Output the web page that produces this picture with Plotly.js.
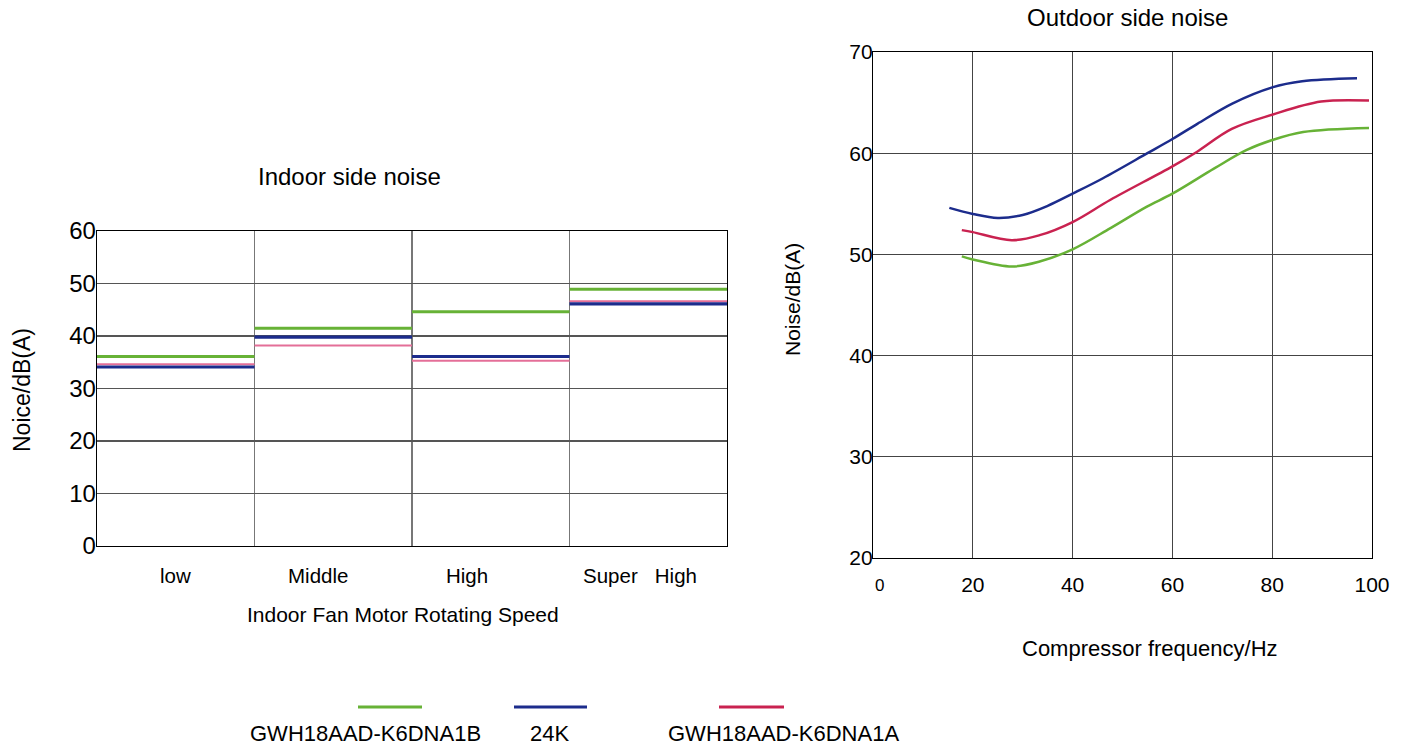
<!DOCTYPE html>
<html>
<head>
<meta charset="utf-8">
<script src="https://cdn.plot.ly/plotly-3.0.1.min.js"></script>
<style>html,body{margin:0;padding:0;background:#fff;}#chart{width:1409px;height:749px;}</style>
</head>
<body>
<div id="chart"></div>
<script>
// ---- Indoor side noise (left) ----
const speedCategories = ['low', 'Middle', 'High', 'Super   High'];
const indoorGreen = [36.1, 41.5, 44.6, 48.9];
const indoorBlue  = [34.1, 39.8, 36.1, 46.1];
const indoorPink  = [34.6, 38.2, 35.3, 46.6];
const indoorTicks = [0, 10, 20, 30, 40, 50, 60];

// ---- Outdoor side noise (right) ----
const freqBlue  = [15.3, 20, 25, 30, 35, 40, 46, 55, 60, 65, 72, 80, 86, 97];
const noiseBlue = [54.6, 54.0, 53.6, 53.9, 54.8, 56.0, 57.5, 60.0, 61.4, 62.9, 64.9, 66.5, 67.1, 67.4];
const freqRed   = [17.8, 20, 27.8, 33.4, 40, 47.6, 60, 64.8, 71.9, 80, 89.8, 99.4];
const noiseRed  = [52.4, 52.2, 51.4, 51.9, 53.2, 55.4, 58.7, 60.1, 62.4, 63.8, 65.1, 65.2];
const freqGreen = [17.8, 20, 27.8, 33.4, 40, 47.6, 54.8, 60, 68.4, 74.8, 80, 86.2, 99.4];
const noiseGreen= [49.8, 49.5, 48.8, 49.3, 50.5, 52.6, 54.7, 56.0, 58.5, 60.3, 61.3, 62.1, 62.5];
const freqTicks = [20, 40, 60, 80, 100];
const outdoorTicks = [20, 30, 40, 50, 60, 70];

const seriesNames = ['GWH18AAD-K6DNA1B', '24K', 'GWH18AAD-K6DNA1A'];

const C_GREEN = '#67b236', C_BLUE = '#1c2c8c', C_PINK = '#e46f98', C_RED = '#c92250';
const FONT = 'Liberation Sans, Arial, sans-serif';
const NARROW = 'Liberation Sans Narrow, Liberation Sans, Arial, sans-serif';

function steps(vals) {
  const x = [], y = [];
  vals.forEach((v, i) => { x.push(i, i + 1, null); y.push(v, v, null); });
  return {x, y};
}

const traces = [];
const sg = steps(indoorGreen), sb = steps(indoorBlue), sp = steps(indoorPink);
traces.push({x: sp.x, y: sp.y, mode: 'lines', line: {color: C_PINK, width: 2}, xaxis: 'x', yaxis: 'y', name: seriesNames[2], hoverinfo: 'skip'});
traces.push({x: sb.x, y: sb.y, mode: 'lines', line: {color: C_BLUE, width: 3.2}, xaxis: 'x', yaxis: 'y', name: seriesNames[1], hoverinfo: 'skip'});
traces.push({x: sg.x, y: sg.y, mode: 'lines', line: {color: C_GREEN, width: 3}, xaxis: 'x', yaxis: 'y', name: seriesNames[0], hoverinfo: 'skip'});

traces.push({x: freqGreen, y: noiseGreen, mode: 'lines', line: {color: C_GREEN, width: 2.5, shape: 'spline', smoothing: 1}, xaxis: 'x2', yaxis: 'y2', name: seriesNames[0]});
traces.push({x: freqRed, y: noiseRed, mode: 'lines', line: {color: C_RED, width: 2.5, shape: 'spline', smoothing: 1}, xaxis: 'x2', yaxis: 'y2', name: seriesNames[2]});
traces.push({x: freqBlue, y: noiseBlue, mode: 'lines', line: {color: C_BLUE, width: 2.5, shape: 'spline', smoothing: 1}, xaxis: 'x2', yaxis: 'y2', name: seriesNames[1]});

const W = 1409, H = 749;
const px = v => v / W, py = v => 1 - v / H;

function note(x, y, text, size, extra) {
  return Object.assign({x: x, y: y, xref: 'paper', yref: 'paper', text: text, showarrow: false,
    xanchor: 'center', yanchor: 'middle', font: {family: FONT, size: size, color: '#000'}}, extra || {});
}

const labelPos = [0.5, 1.4, 2.35, 3.45];
const annotations = [];
speedCategories.forEach((c, i) => annotations.push(note(labelPos[i], py(575), c, 20.5, {xref: 'x'})));
annotations.push(note(px(349), py(177), 'Indoor side noise', 24));
annotations.push(note(px(1127), py(18), 'Outdoor side noise', 24));
annotations.push(note(px(403), py(614), 'Indoor Fan Motor Rotating Speed', 21));
annotations.push(note(px(22), py(390), 'Noice/dB(A)', 23, {textangle: -90}));
annotations.push(note(px(1150), py(648), 'Compressor frequency/Hz', 22));
annotations.push(note(px(793), py(300), 'Noise/dB(A)', 21, {textangle: -90}));
annotations.push(note(px(880), py(585), '0', 17, {font: {family: NARROW, size: 17, color: '#000'}}));

// custom legend: line sample above text
const legendColors = [C_GREEN, C_BLUE, C_RED];
const legendLineX = [[358, 422], [514, 587], [719, 784]];
const legendTextX = [365, 549, 783];
const shapes = [];
seriesNames.forEach((n, i) => {
  shapes.push({type: 'line', xref: 'paper', yref: 'paper', x0: px(legendLineX[i][0]), x1: px(legendLineX[i][1]), y0: py(707), y1: py(707), line: {color: legendColors[i], width: 3}});
  annotations.push(note(px(legendTextX[i]), py(733), n, 22));
});

const layout = {
  width: W, height: H,
  margin: {l: 0, r: 0, t: 0, b: 0},
  paper_bgcolor: '#fff', plot_bgcolor: '#fff',
  showlegend: false,
  xaxis: {
    domain: [px(97), px(727)], range: [0, 4], anchor: 'y',
    tickvals: [1, 2, 3], showticklabels: false, ticks: '',
    showgrid: true, gridcolor: '#777', gridwidth: 1.3,
    showline: true, mirror: true, linecolor: '#000', linewidth: 1.3, zeroline: false
  },
  yaxis: {
    domain: [py(546), py(231)], range: [0, 60], anchor: 'x',
    tickvals: indoorTicks, ticks: '', ticklabelstandoff: -5,
    tickfont: {family: FONT, size: 24, color: '#000'},
    showgrid: true, gridcolor: '#555', gridwidth: 1.3,
    showline: true, mirror: true, linecolor: '#000', linewidth: 1.3, zeroline: false
  },
  xaxis2: {
    domain: [px(873), px(1372)], range: [0, 100], anchor: 'y2',
    tickvals: freqTicks, ticks: '', ticklabelstandoff: 8,
    tickfont: {family: FONT, size: 21, color: '#000'},
    showgrid: true, gridcolor: '#444', gridwidth: 1.2,
    showline: true, mirror: true, linecolor: '#000', linewidth: 1.2, zeroline: false
  },
  yaxis2: {
    domain: [py(558), py(52)], range: [20, 70], anchor: 'x2',
    tickvals: outdoorTicks, ticks: '', ticklabelstandoff: -5,
    tickfont: {family: FONT, size: 21, color: '#000'},
    showgrid: true, gridcolor: '#444', gridwidth: 1.2,
    showline: true, mirror: true, linecolor: '#000', linewidth: 1.2, zeroline: false
  },
  annotations: annotations,
  shapes: shapes
};

Plotly.newPlot('chart', traces, layout, {displayModeBar: false, staticPlot: true});
</script>
</body>
</html>
